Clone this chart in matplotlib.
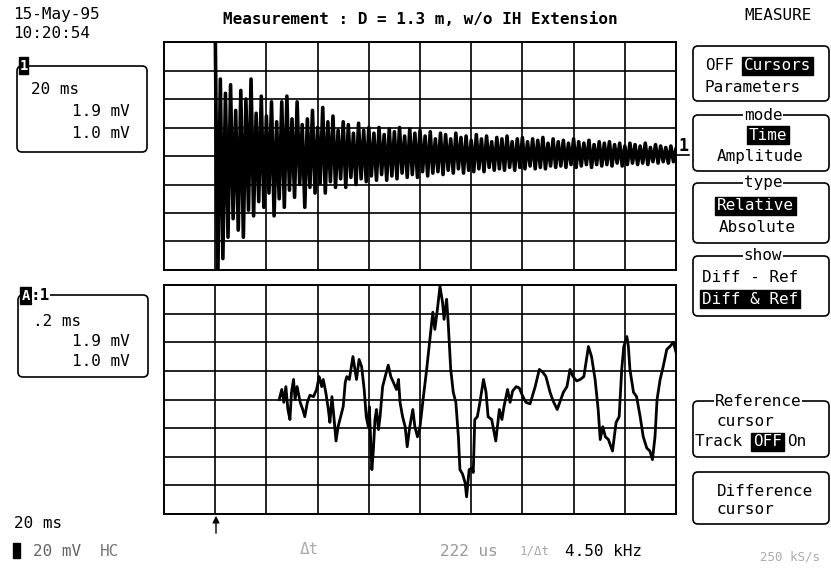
import numpy as np
import matplotlib.pyplot as plt
from matplotlib.patches import FancyBboxPatch, Rectangle

W, H = 831, 571
MONO = 'DejaVu Sans Mono'

# channel 1, 20 ms/div: alternating peak values of the decaying response (divisions)
top_hi = [4.5, 2.7, 2.2, 2.5, 1.6, 2.3, 2.0, 2.7, 1.5, 2.1,
          1.4, 1.9, 1.2, 1.9, 2.1, 1.3, 1.9, 1.1, 1.3, 1.6,
          1.0, 1.7, 1.2, 1.4, 0.9, 1.2, 1.1, 0.8, 1.15, 0.9,
          1.0, 0.8, 1.0, 0.75, 0.95, 0.85, 1.0, 0.7, 0.95, 0.8,
          0.9, 0.7, 0.85, 0.6, 0.8, 0.75, 0.6, 0.8, 0.65, 0.7,
          0.55, 0.75, 0.6, 0.7, 0.5, 0.65, 0.6, 0.7, 0.5, 0.6,
          0.65, 0.5, 0.6, 0.55, 0.65, 0.45, 0.6, 0.5, 0.55, 0.45,
          0.6, 0.5, 0.45, 0.55, 0.4, 0.5, 0.45, 0.5, 0.4, 0.45,
          0.35, 0.45, 0.4, 0.35, 0.45, 0.3, 0.4, 0.35, 0.3, 0.35,
          0.25]
top_lo = [-4.5, -3.6, -2.85, -2.2, -2.6, -2.85, -1.9, -2.1, -1.6, -1.8,
          -1.3, -2.1, -1.5, -1.8, -1.2, -1.45, -1.0, -1.8, -1.1, -1.3,
          -0.95, -1.3, -0.9, -1.1, -0.8, -1.1, -0.75, -1.0, -0.8, -0.9,
          -0.7, -0.85, -0.65, -0.85, -0.7, -0.8, -0.6, -0.75, -0.65, -0.75,
          -0.55, -0.7, -0.6, -0.55, -0.65, -0.5, -0.6, -0.45, -0.6, -0.5,
          -0.55, -0.45, -0.55, -0.4, -0.5, -0.45, -0.5, -0.4, -0.5, -0.4,
          -0.45, -0.35, -0.45, -0.4, -0.45, -0.35, -0.4, -0.35, -0.4, -0.3,
          -0.4, -0.35, -0.3, -0.4, -0.3, -0.35, -0.3, -0.35, -0.25, -0.35,
          -0.3, -0.25, -0.3, -0.25, -0.3, -0.2, -0.25, -0.2, -0.25, -0.2]

# channel 1 zoomed, .2 ms/div (x and y in divisions)
bot_x = [2.25, 2.30, 2.34, 2.38, 2.42, 2.46, 2.49, 2.53, 2.56, 2.60,
         2.66, 2.71, 2.75, 2.80, 2.85, 2.92, 2.98, 3.03, 3.08, 3.11,
         3.16, 3.21, 3.24, 3.28, 3.31, 3.36, 3.40, 3.45, 3.50, 3.54,
         3.57, 3.62, 3.69, 3.73, 3.76, 3.81, 3.86, 3.91, 3.95, 3.99,
         4.01, 4.06, 4.09, 4.12, 4.15, 4.19, 4.22, 4.27, 4.32, 4.38,
         4.43, 4.48, 4.54, 4.58, 4.61, 4.66, 4.71, 4.75, 4.80, 4.86,
         4.90, 4.95, 5.00, 5.06, 5.13, 5.20, 5.25, 5.29, 5.34, 5.39,
         5.44, 5.47, 5.52, 5.55, 5.60, 5.65, 5.70, 5.75, 5.78, 5.83,
         5.88, 5.91, 5.96, 6.01, 6.04, 6.07, 6.12, 6.17, 6.24, 6.29,
         6.33, 6.40, 6.48, 6.55, 6.60, 6.64, 6.71, 6.76, 6.81, 6.88,
         6.94, 7.01, 7.07, 7.15, 7.25, 7.33, 7.40, 7.46, 7.54, 7.60,
         7.68, 7.73, 7.80, 7.87, 7.93, 7.99, 8.06, 8.13, 8.20, 8.29,
         8.35, 8.42, 8.48, 8.52, 8.57, 8.62, 8.68, 8.76, 8.83, 8.89,
         8.94, 8.98, 9.04, 9.07, 9.10, 9.17, 9.23, 9.30, 9.36, 9.43,
         9.49, 9.54, 9.59, 9.63, 9.69, 9.75, 9.82, 9.88, 9.95, 10.0]
bot_y = [0.0, 0.35, -0.1, 0.45, -0.35, -0.7, 0.25, 0.7, 0.0, 0.45,
         -0.1, -0.35, -0.6, -0.1, 0.15, 0.1, 0.35, 0.8, 0.45, 0.7,
         0.25, -0.35, -0.8, 0.1, -0.45, -1.45, -0.95, -0.6, -0.25, 0.6,
         0.8, 0.7, 1.5, 1.05, 0.7, 1.4, 1.15, 0.35, -0.6, -0.95,
         -0.25, -2.45, -1.75, -0.7, -0.35, -1.05, -0.6, 0.45, 0.8, 1.2,
         0.8, 0.6, 0.35, 0.7, -0.1, -0.6, -0.95, -1.65, -0.95, -0.35,
         -0.95, -1.3, -0.95, 0.0, 1.05, 2.2, 3.05, 2.45, 3.15, 3.95,
         3.4, 2.8, 3.5, 2.7, 1.05, 0.25, -0.1, -1.3, -2.45, -2.6,
         -2.9, -3.4, -2.45, -2.4, -2.55, -0.7, -0.6, -0.1, 0.7, 0.25,
         -0.6, -0.7, -1.45, -0.35, -0.7, -0.25, 0.35, -0.1, 0.3, 0.45,
         0.4, 0.1, -0.1, -0.15, 0.45, 1.05, 0.95, 0.8, 0.25, -0.05,
         -0.35, -0.1, 0.25, 0.45, 1.05, 0.8, 0.65, 0.7, 0.8, 1.85,
         1.5, 0.7, -0.35, -1.4, -0.95, -1.3, -1.4, -1.8, -0.8, -0.6,
         1.05, 1.85, 2.2, 1.85, 1.05, 0.25, 0.1, -0.6, -1.3, -1.7,
         -1.8, -2.1, -1.3, 0.0, 0.7, 1.15, 1.75, 1.85, 2.0, 1.65]

fig = plt.figure(figsize=(W / 100, H / 100), dpi=100)
bg = fig.add_axes([0, 0, 1, 1])
bg.set_xlim(0, W)
bg.set_ylim(H, 0)
bg.axis('off')


def scope_axes(x0, y0, x1, y1):
    ax = fig.add_axes([x0 / W, 1 - y1 / H, (x1 - x0) / W, (y1 - y0) / H])
    ax.set_xlim(0, 10)
    ax.set_ylim(-4, 4)
    ax.set_xticks(range(11))
    ax.set_yticks(range(-4, 5))
    ax.tick_params(length=0, labelbottom=False, labelleft=False)
    ax.grid(True, color='black', lw=1.2)
    ax.set_axisbelow(True)
    for s in ax.spines.values():
        s.set_linewidth(1.4)
    return ax


ax1 = scope_axes(164, 42, 676, 270)
trace = [v for pair in zip(top_hi, top_lo) for v in pair] + top_hi[len(top_lo):]
t = np.linspace(1.0, 10.0, len(trace))
ax1.plot(t, trace, color='black', lw=2.6, solid_joinstyle='round')

ax2 = scope_axes(164, 285, 676, 514)
ax2.plot(bot_x, bot_y, color='black', lw=2.0, solid_joinstyle='round')


def txt(x, y, s, size=11.5, ha='left', **kw):
    bg.text(x, y, s, fontsize=size, ha=ha, va='center', family=MONO, **kw)


def hl(x, y, s, size=11.5, ha='left'):
    bg.text(x, y, s, fontsize=size, ha=ha, va='center', family=MONO, color='white',
            bbox=dict(facecolor='black', edgecolor='black', boxstyle='square,pad=0.12'))


def box(x0, y0, x1, y1, label=None, lx=None):
    bg.add_patch(FancyBboxPatch((x0, y0), x1 - x0, y1 - y0,
                                boxstyle='round,pad=0,rounding_size=5',
                                fc='none', ec='black', lw=1.2))
    if label:
        bg.text(lx, y0, label, fontsize=11.5, ha='center', va='center', family=MONO,
                bbox=dict(facecolor='white', edgecolor='none', pad=0.5))


# header
txt(13, 15, '15-May-95')
txt(13, 34, '10:20:54')
bg.text(420, 19, 'Measurement : D = 1.3 m, w/o IH Extension', fontsize=11.5,
        ha='center', va='center', family=MONO, fontweight='bold')
txt(778, 15, 'MEASURE', ha='center')

# channel info boxes
box(17, 66, 147, 152)
bg.add_patch(Rectangle((19, 57), 9, 17, fc='black', ec='black'))
bg.text(23.5, 65.5, '1', color='white', fontsize=10, ha='center', va='center',
        family=MONO, fontweight='bold')
txt(31, 90, '20 ms')
txt(130, 112, '1.9 mV', ha='right')
txt(130, 133, '1.0 mV', ha='right')

box(18, 295, 148, 377)
bg.add_patch(Rectangle((20, 287), 11, 17, fc='black', ec='black'))
bg.text(25.5, 295.5, 'A', color='white', fontsize=10, ha='center', va='center',
        family=MONO, fontweight='bold')
bg.add_patch(Rectangle((32, 287), 18, 16, fc='white', ec='none'))
txt(31, 295, ':1', fontweight='bold')
txt(33, 322, '.2 ms')
txt(130, 342, '1.9 mV', ha='right')
txt(130, 361, '1.0 mV', ha='right')

# trace level marker
bg.text(684, 146, '1', fontsize=12, ha='center', va='center', family=MONO, fontweight='bold')
bg.plot([676, 689], [155, 155], color='black', lw=1.2)

# softkey menu
box(693, 46, 829, 101)
txt(705, 66, 'OFF')
hl(744, 66, 'Cursors')
txt(705, 87, 'Parameters')

box(693, 115, 829, 171, 'mode', 763)
hl(749, 135, 'Time')
txt(717, 157, 'Amplitude')

box(693, 183, 829, 243, 'type', 763)
hl(717, 206, 'Relative')
txt(719, 228, 'Absolute')

box(693, 256, 829, 316, 'show', 763)
txt(702, 278, 'Diff - Ref')
hl(702, 299, 'Diff & Ref')

box(693, 401, 829, 457, 'Reference', 758)
txt(717, 422, 'cursor')
txt(695, 442, 'Track')
hl(753, 442, 'OFF')
txt(787, 442, 'On')

box(693, 472, 829, 524)
txt(717, 491, 'Difference')
txt(717, 510, 'cursor')

# reference cursor arrow
bg.annotate('', xy=(216, 513), xytext=(216, 536),
            arrowprops=dict(arrowstyle='-|>', color='black', lw=1.0, mutation_scale=10))

# status line
txt(14, 524, '20 ms')
bg.add_patch(Rectangle((13, 543), 7, 15, fc='black', ec='black'))
txt(33, 551, '20 mV', color='#666666')
txt(100, 551, 'HC', color='#777777')
txt(300, 549, 'Δt', color='#aaaaaa')
txt(440, 551, '222 us', color='#999999')
txt(520, 551, '1/Δt', color='#aaaaaa', size=9)
txt(565, 551, '4.50 kHz')
txt(760, 557, '250 kS/s', color='#aaaaaa', size=9)

fig.savefig('out.png', dpi=100)
